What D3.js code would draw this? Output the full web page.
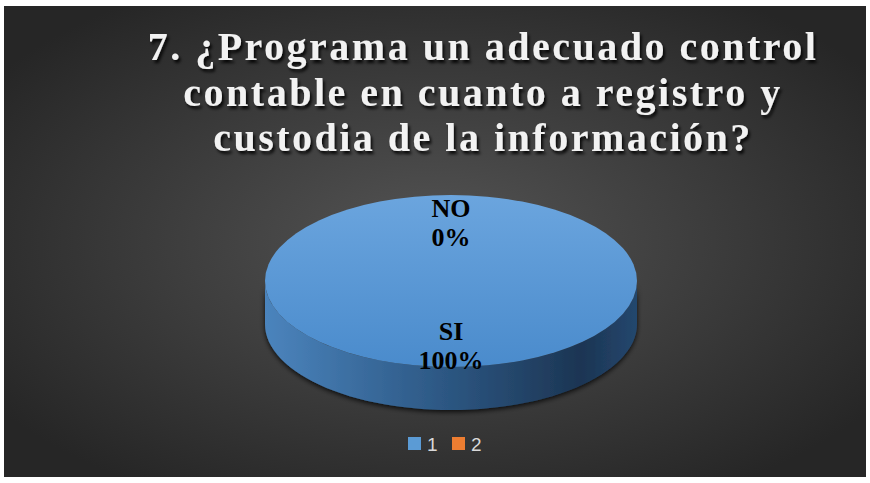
<!DOCTYPE html>
<html>
<head>
<meta charset="utf-8">
<script src="https://cdn.jsdelivr.net/npm/d3@7"></script>
<style>
  body{margin:0;background:#fff;}
  svg{display:block;}
</style>
</head>
<body>
<div id="chart"></div>
<script>
// data
const titleLines = ['7. ¿Programa un adecuado control', 'contable en cuanto a registro y', 'custodia de la información?'];
const categories = ['SI', 'NO'];
const values = [100, 0];
const legendLabels = ['1', '2'];
const colors = ['#5b9bd5', '#ed7d31'];

const W = 870, H = 483;
const svg = d3.select('#chart').append('svg').attr('width', W).attr('height', H);
const defs = svg.append('defs');

// background gradient
const bg = defs.append('radialGradient').attr('id','bg')
  .attr('cx','50%').attr('cy','50%').attr('r','62%');
bg.append('stop').attr('offset','0%').attr('stop-color','#545454');
bg.append('stop').attr('offset','100%').attr('stop-color','#262626');

const topGrad = defs.append('linearGradient').attr('id','topFace')
  .attr('x1',0).attr('y1',0).attr('x2',0).attr('y2',1);
topGrad.append('stop').attr('offset','0%').attr('stop-color','#6ba5de');
topGrad.append('stop').attr('offset','100%').attr('stop-color','#4a8bcc');

const sideGrad = defs.append('linearGradient').attr('id','sideFace')
  .attr('x1',0).attr('y1',0).attr('x2',1).attr('y2',0);
sideGrad.append('stop').attr('offset','0%').attr('stop-color','#4b84bd');
sideGrad.append('stop').attr('offset','45%').attr('stop-color','#2e5a87');
sideGrad.append('stop').attr('offset','85%').attr('stop-color','#1c3553');
sideGrad.append('stop').attr('offset','100%').attr('stop-color','#24476e');

const tshadow = defs.append('filter').attr('id','tshadow')
  .attr('x','-10%').attr('y','-20%').attr('width','120%').attr('height','150%');
tshadow.append('feDropShadow').attr('dx',2).attr('dy',3).attr('stdDeviation',1.6)
  .attr('flood-color','#000').attr('flood-opacity',0.85);

const pshadow = defs.append('filter').attr('id','pshadow')
  .attr('x','-10%').attr('y','-10%').attr('width','120%').attr('height','130%');
pshadow.append('feDropShadow').attr('dx',0).attr('dy',2).attr('stdDeviation',2.5)
  .attr('flood-color','#000').attr('flood-opacity',0.8);

svg.append('rect').attr('x',4).attr('y',6).attr('width',862).attr('height',471)
  .attr('fill','url(#bg)');

// title
svg.append('g').attr('filter','url(#tshadow)')
  .selectAll('text').data(titleLines).enter()
  .append('text')
  .attr('x', 483)
  .attr('y', (d,i) => 60 + i*45.5)
  .attr('text-anchor','middle')
  .attr('font-family','"Liberation Serif", "Times New Roman", serif')
  .attr('font-weight','bold')
  .attr('font-size', 40)
  .attr('letter-spacing', 2.5)
  .attr('fill','#f2f2f2')
  .text(d => d);

// 3d pie
const cx = 451, cy = 281, rx = 186, ry = 86, depth = 43;
const k = ry / rx;

const pie = d3.pie().sort(null).value(d => d.value);
const arcs = pie(categories.map((c,i) => ({name:c, value:values[i], color:colors[i]})));

// point on ellipse at d3 angle (0 = top, clockwise)
const px = a => cx + rx * Math.sin(a);
const py = (a, dz) => cy - ry * Math.cos(a) + (dz || 0);

function sidePath(d){
  // only the front part (angles between pi/2 and 3pi/2) is visible
  const a0 = Math.max(d.startAngle, Math.PI/2);
  const a1 = Math.min(d.endAngle, Math.PI*3/2);
  if(a1 <= a0) return null;
  const p = d3.path();
  p.moveTo(px(a0), py(a0));
  p.lineTo(px(a0), py(a0, depth));
  const n = 60;
  for(let i=1;i<=n;i++){ const a = a0 + (a1-a0)*i/n; p.lineTo(px(a), py(a, depth)); }
  p.lineTo(px(a1), py(a1));
  for(let i=n-1;i>=0;i--){ const a = a0 + (a1-a0)*i/n; p.lineTo(px(a), py(a)); }
  p.closePath();
  return p.toString();
}

const pieG = svg.append('g');
pieG.append('g').attr('filter','url(#pshadow)')
  .selectAll('path').data(arcs.filter(d => d.value > 0)).enter()
  .append('path')
  .attr('d', sidePath)
  .attr('fill','url(#sideFace)');

const arc = d3.arc().innerRadius(0).outerRadius(rx);
pieG.append('g').attr('transform', `translate(${cx},${cy}) scale(1,${k})`)
  .selectAll('path').data(arcs.filter(d => d.value > 0)).enter()
  .append('path')
  .attr('d', arc)
  .attr('fill', (d,i) => i === 0 ? 'url(#topFace)' : d.data.color);

// labels
const labelRatio = [0.75, 0.67];
const fmt = d3.format('.0%');
const lbl = pieG.append('g').selectAll('g').data(arcs).enter().append('g')
  .attr('transform', (d,i) => {
    const a = (d.startAngle + d.endAngle) / 2;
    const r = rx * labelRatio[i];
    return `translate(${cx + r*Math.sin(a)},${cy - r*k*Math.cos(a)})`;
  });
lbl.append('text')
  .attr('text-anchor','middle')
  .attr('font-family','"Liberation Serif", "Times New Roman", serif')
  .attr('font-weight','bold').attr('font-size',26).attr('fill','#000')
  .selectAll('tspan').data(d => [d.data.name, fmt(d.data.value/d3.sum(values))]).enter()
  .append('tspan')
  .attr('x',0)
  .attr('y',(d,i) => i === 0 ? -6 : 23)
  .text(d => d);

// legend
const leg = svg.append('g').attr('transform','translate(408,437)')
  .selectAll('g').data(legendLabels).enter().append('g')
  .attr('transform',(d,i) => `translate(${i*44},0)`);
leg.append('rect').attr('width',13).attr('height',13)
  .attr('fill',(d,i) => colors[i]);
leg.append('text').attr('x',19).attr('y',13.5)
  .attr('font-family','"Liberation Sans Narrow", "Liberation Sans", sans-serif')
  .attr('font-size',19).attr('fill','#d9d9d9')
  .text(d => d);
</script>
</body>
</html>
